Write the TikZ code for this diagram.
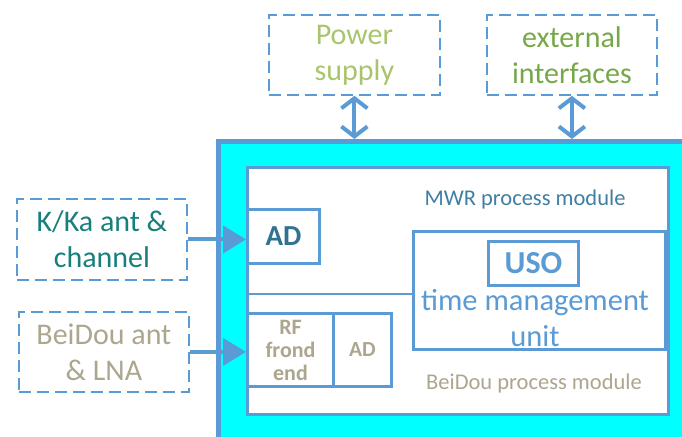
\documentclass[tikz,border=0pt]{standalone}
\usepackage{fontspec}
\setmainfont{Carlito}
\usetikzlibrary{arrows.meta,positioning}
\definecolor{lineblue}{HTML}{5B9BD5}
\definecolor{boardcyan}{HTML}{00FFFF}
\definecolor{powergreen}{HTML}{A9C46C}
\definecolor{extgreen}{HTML}{76A84A}
\definecolor{kkateal}{HTML}{17807C}
\definecolor{mwrblue}{HTML}{3F7FA3}
\definecolor{adblue}{HTML}{2F7391}
\definecolor{bdbeige}{HTML}{ADA68E}

\begin{document}
\begin{tikzpicture}[x=1pt,y=-1pt,
  dashbox/.style={draw=lineblue,line width=1.8pt,dash pattern=on 12pt off 6pt,anchor=north west,inner sep=0pt,align=center,font=\fontsize{30}{36}\selectfont},
  blockbox/.style={draw=lineblue,line width=3pt,fill=white,anchor=north west,inner sep=0pt,align=center},
  dblarrow/.style={draw=lineblue,line width=4pt,{Straight Barb[length=10pt,width=26pt]}-{Straight Barb[length=10pt,width=26pt]}},
  inarrow/.style={draw=lineblue,line width=4pt,-{Triangle[length=23pt,width=27pt]}}]
\clip (0,0) rectangle (682,436);
\useasboundingbox (0,0) rectangle (682,436);
\node[dashbox,minimum width=171pt,minimum height=80pt,text=powergreen] (power) at (268,14) {Power\\supply};
\node[dashbox,minimum width=170pt,minimum height=80pt,text=extgreen] (ext) at (486,14) {external\\interfaces};
\node[dashbox,minimum width=170pt,minimum height=81pt,text=kkateal] (kka) at (16,198) {K/Ka ant \&\\channel};
\node[dashbox,minimum width=170pt,minimum height=80pt,text=bdbeige] (bdant) at (18,311) {BeiDou ant\\\& LNA};
\node[draw=lineblue,line width=4.5pt,fill=boardcyan,anchor=north west,minimum width=490pt,minimum height=320pt] (board) at (216,139) {};
\node[blockbox,minimum width=421pt,minimum height=247pt] (proc) at (246,166) {};
\coordinate (split) at (246,294);
\draw[lineblue,line width=2pt] (split) -- (split -| proc.east);
\node[text=mwrblue,font=\fontsize{22.5}{26}\selectfont] (mwrlabel) at (525,199) {MWR process module};
\node[text=bdbeige,font=\fontsize{22.5}{26}\selectfont] (bdlabel) at (534,383) {BeiDou process module};
\node[blockbox,minimum width=72pt,minimum height=54pt,text=adblue,font=\fontsize{29}{32}\selectfont\bfseries] (adk) at (246,208) {AD};
\node[blockbox,minimum width=86pt,minimum height=73pt,text=bdbeige,font=\fontsize{22}{23}\selectfont\bfseries] (rf) at (246,312) {RF\\frond\\end};
\node[blockbox,minimum width=58pt,minimum height=73pt,text=bdbeige,font=\fontsize{21.5}{24}\selectfont\bfseries] (adb) at (332,312) {AD};
\node[blockbox,minimum width=252pt,minimum height=118pt] (tmu) at (412,230) {};
\node[text=lineblue,align=center,font=\fontsize{30.5}{36}\selectfont] (tmulabel) at (535,318) {time management\\unit};
\node[blockbox,minimum width=90pt,minimum height=44pt,text=lineblue,font=\fontsize{32}{34}\selectfont\bfseries] (uso) at (487,240) {USO};
\draw[dblarrow] (power.south) -- (power.south |- board.north);
\draw[dblarrow] (ext.south) -- (ext.south |- board.north);
\draw[inarrow] (kka.east) -- (kka.east -| proc.west);
\draw[inarrow] (bdant.east) -- (bdant.east -| proc.west);
\end{tikzpicture}
\end{document}
